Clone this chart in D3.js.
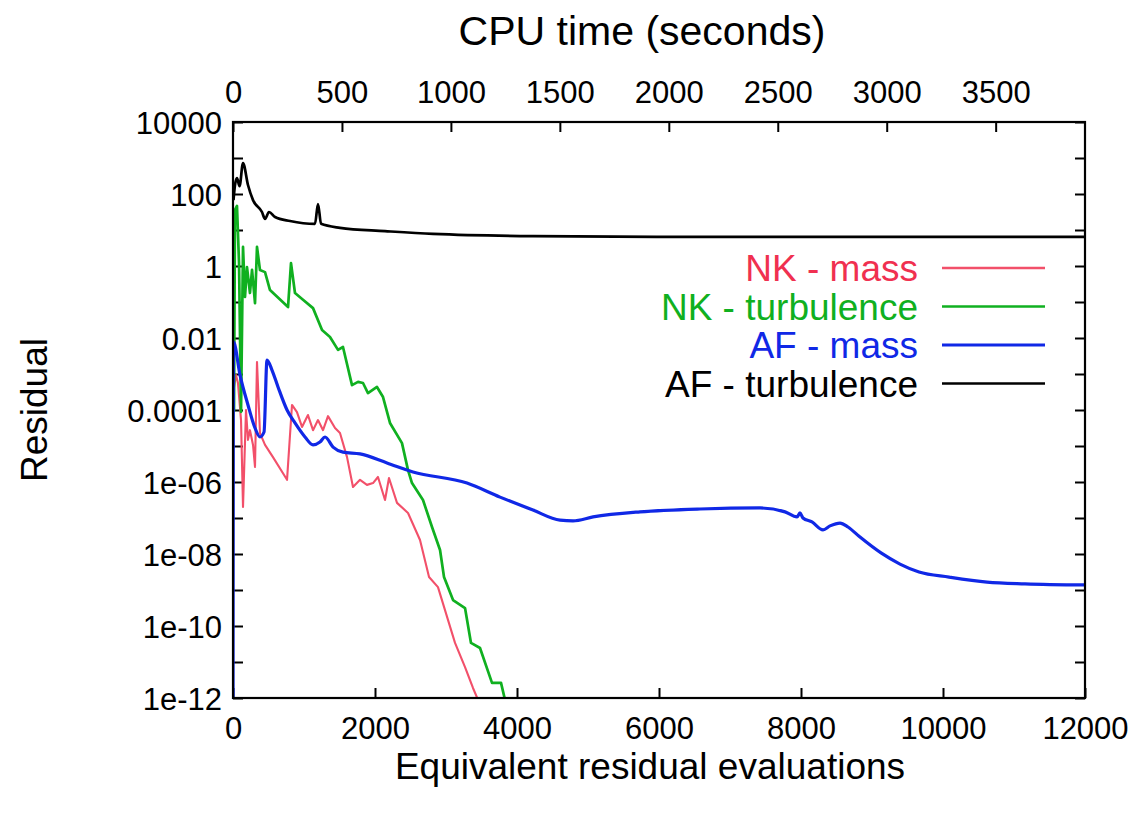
<!DOCTYPE html>
<html>
<head>
<meta charset="utf-8">
<script src="https://cdn.jsdelivr.net/npm/d3@7"></script>
<style>
  html, body { margin: 0; padding: 0; background: #ffffff; }
  svg { display: block; font-family: "Liberation Sans", Arial, Helvetica, sans-serif; }
</style>
</head>
<body>
<svg id="chart" width="1146" height="816"></svg>
<script>
// ---------------- DATA ----------------
const bottomTicks = [0, 2000, 4000, 6000, 8000, 10000, 12000];
const topTicks = [0, 500, 1000, 1500, 2000, 2500, 3000, 3500];
const yTickValues = [1e4, 1e2, 1, 1e-2, 1e-4, 1e-6, 1e-8, 1e-10, 1e-12];
const yTickLabels = ["10000", "100", "1", "0.01", "0.0001", "1e-06", "1e-08", "1e-10", "1e-12"];
const yMinorTicks = [1e3, 1e1, 1e-1, 1e-3, 1e-5, 1e-7, 1e-9, 1e-11];

const seriesNames = ["NK - mass", "NK - turbulence", "AF - mass", "AF - turbulence"];
const seriesColors = ["#f2506a", "#10b020", "#1028e6", "#000000"];
const legendTextColors = ["#f03050", "#10b020", "#1028e6", "#000000"];

// NK - mass (red)
const nkMassX = [7, 42, 70, 113, 141, 183, 211, 239, 282, 310, 338, 380, 451, 563, 761, 831, 901, 972, 1056, 1127, 1197, 1268, 1338, 1437, 1507, 1606, 1690, 1789, 1887, 1972, 2042, 2141, 2197, 2310, 2465, 2634, 2761, 2887, 3127, 3268, 3380, 3451];
const nkMassY = [3.63e-4, 9.33e-4, 5.62e-4, 5.25e-5, 2.04e-7, 1e-4, 1.48e-5, 2.75e-5, 1.07e-5, 2.63e-6, 2.14e-3, 2.29e-5, 1.07e-5, 4.9e-6, 1.15e-6, 1.38e-4, 8.71e-5, 3.39e-5, 7.24e-5, 2.75e-5, 5.25e-5, 2.75e-5, 6.76e-5, 3.16e-5, 2.29e-5, 4.9e-6, 7.24e-7, 1.15e-6, 8.32e-7, 9.33e-7, 1.38e-6, 3.16e-7, 1.29e-6, 2.63e-7, 1.38e-7, 2.45e-8, 2.29e-9, 1.2e-9, 3.39e-11, 7.24e-12, 1.9e-12, 8.9e-13];

// NK - turbulence (green)
const nkTurbX = [14, 28, 56, 85, 113, 141, 169, 197, 239, 268, 310, 338, 380, 451, 521, 775, 817, 873, 986, 1127, 1254, 1366, 1479, 1549, 1676, 1761, 1831, 1901, 2028, 2113, 2211, 2380, 2465, 2521, 2676, 2803, 2916, 2972, 3099, 3268, 3352, 3479, 3648, 3775, 3831];
const nkTurbY = [8.9e-5, 36.3, 46.8, 1.2, 8.9e-5, 3.39, 0.138, 0.933, 0.178, 0.776, 0.0933, 3.39, 0.776, 0.676, 0.214, 0.0724, 1.2, 0.178, 0.115, 0.0676, 0.0166, 0.0107, 0.00468, 0.00562, 4.9e-4, 6.03e-4, 5.62e-4, 2.95e-4, 4.37e-4, 2.29e-4, 4.37e-5, 1.2e-5, 2.14e-6, 9.33e-7, 3.16e-7, 5.62e-8, 1.29e-8, 2.29e-9, 5.25e-10, 3.16e-10, 3.39e-11, 2.45e-11, 2.63e-12, 2.63e-12, 8.9e-13];

// AF - mass (blue)
const afMassX = [0, 7, 99, 211, 310, 380, 437, 479, 549, 634, 761, 873, 1014, 1127, 1225, 1296, 1409, 1549, 1789, 2169, 2535, 3296, 3761, 4225, 4606, 4789, 5071, 5733, 6578, 7423, 7775, 7944, 7986, 8028, 8155, 8310, 8409, 8550, 8662, 8831, 9127, 9394, 9662, 10085, 10620, 11155, 12000];
const afMassY = [3.16e-13, 7.76e-3, 9.33e-4, 1.38e-4, 3.16e-5, 1.78e-5, 2.45e-5, 2.45e-3, 1.29e-3, 4.37e-4, 1e-4, 4.37e-5, 1.78e-5, 1.07e-5, 1.29e-5, 1.78e-5, 9.33e-6, 6.76e-6, 6.03e-6, 3.39e-6, 1.9e-6, 9.33e-7, 3.8e-7, 1.66e-7, 8.71e-8, 8.32e-8, 1.07e-7, 1.48e-7, 1.78e-7, 1.9e-7, 1.48e-7, 1.07e-7, 1.38e-7, 1e-7, 7.76e-8, 4.68e-8, 6.03e-8, 7.24e-8, 5.62e-8, 2.95e-8, 1.07e-8, 5.25e-9, 3.16e-9, 2.29e-9, 1.66e-9, 1.48e-9, 1.38e-9];

// AF - turbulence (black)
const afTurbX = [7, 28, 56, 92, 141, 211, 282, 408, 451, 507, 592, 803, 1155, 1197, 1240, 1507, 2141, 2817, 4225, 6578, 12000];
const afTurbY = [67.6, 178, 275, 166, 724, 178, 67.6, 31.6, 20.4, 31.6, 22.9, 17.8, 14.8, 52.5, 14.8, 11.5, 9.33, 7.76, 6.76, 6.46, 6.46];

// ---------------- CHART ----------------
const plot = { left: 233, right: 1085, top: 122, bottom: 698 };

const svg = d3.select("#chart");

const x = d3.scaleLinear().domain([0, 12000]).range([plot.left, plot.right]);
const xTop = d3.scaleLinear().domain([0, 3910]).range([plot.left, plot.right]);
const y = d3.scaleLog().domain([1e-12, 1e4]).range([plot.bottom, plot.top]);

svg.append("defs").append("clipPath").attr("id", "clip")
  .append("rect")
  .attr("x", plot.left).attr("y", plot.top)
  .attr("width", plot.right - plot.left).attr("height", plot.bottom - plot.top);

const tickFont = 31;
const titleFont = 37;

// bottom axis
svg.append("g")
  .attr("transform", `translate(0,${plot.bottom})`)
  .call(d3.axisBottom(x).tickValues(bottomTicks).tickFormat(d3.format("d"))
    .tickSizeInner(-10).tickSizeOuter(0).tickPadding(19));
// top axis
svg.append("g")
  .attr("transform", `translate(0,${plot.top})`)
  .call(d3.axisTop(xTop).tickValues(topTicks).tickFormat(d3.format("d"))
    .tickSizeInner(-10).tickSizeOuter(0).tickPadding(19));
// left axis (labels)
const gLeft = svg.append("g")
  .attr("transform", `translate(${plot.left},0)`)
  .call(d3.axisLeft(y).tickValues(yTickValues)
    .tickFormat((d, i) => yTickLabels[i])
    .tickSizeInner(-10).tickSizeOuter(0).tickPadding(11));
// left minor ticks
svg.append("g")
  .attr("transform", `translate(${plot.left},0)`)
  .call(d3.axisLeft(y).tickValues(yMinorTicks).tickFormat("")
    .tickSizeInner(-10).tickSizeOuter(0));
// right axis ticks
svg.append("g")
  .attr("transform", `translate(${plot.right},0)`)
  .call(d3.axisRight(y).tickValues(yTickValues.concat(yMinorTicks)).tickFormat("")
    .tickSizeInner(-10).tickSizeOuter(0));

svg.selectAll(".domain").remove();
svg.selectAll(".tick line").attr("stroke", "#000").attr("stroke-width", 2);
svg.selectAll(".tick text").attr("font-size", tickFont).attr("fill", "#000")
  .attr("font-family", '"Liberation Sans", Arial, Helvetica, sans-serif');
gLeft.selectAll(".tick text").attr("dy", "0.36em");

// series
const data = [
  { x: nkMassX, y: nkMassY, w: 2.1 },
  { x: nkTurbX, y: nkTurbY, w: 2.7 },
  { x: afMassX, y: afMassY, w: 3.2 },
  { x: afTurbX, y: afTurbY, w: 2.7 }
];

const gLines = svg.append("g").attr("clip-path", "url(#clip)");
data.forEach((s, i) => {
  const pts = s.x.map((v, k) => [v, s.y[k]]);
  const line = d3.line()
    .x(d => x(d[0]))
    .y(d => y(d[1]))
    .curve(i >= 2 ? d3.curveMonotoneX : d3.curveLinear);
  gLines.append("path")
    .attr("d", line(pts))
    .attr("fill", "none")
    .attr("stroke", seriesColors[i])
    .attr("stroke-width", s.w)
    .attr("stroke-linejoin", "round");
});

// frame
svg.append("rect")
  .attr("x", plot.left).attr("y", plot.top)
  .attr("width", plot.right - plot.left).attr("height", plot.bottom - plot.top)
  .attr("fill", "none").attr("stroke", "#000").attr("stroke-width", 2.2);

// legend
const legendTextX = 918, legendLineX1 = 942, legendLineX2 = 1045;
const legendY0 = 268, legendDy = 38.5;
const legend = svg.append("g");
seriesNames.forEach((name, i) => {
  const cy = legendY0 + i * legendDy;
  legend.append("text")
    .attr("x", legendTextX).attr("y", cy)
    .attr("dy", "0.36em")
    .attr("text-anchor", "end")
    .attr("font-size", 37)
    .attr("fill", legendTextColors[i])
    .text(name);
  legend.append("line")
    .attr("x1", legendLineX1).attr("x2", legendLineX2)
    .attr("y1", cy).attr("y2", cy)
    .attr("stroke", seriesColors[i]).attr("stroke-width", i === 2 ? 3 : 2.4);
});

// axis titles
svg.append("text")
  .attr("x", 642).attr("y", 45)
  .attr("text-anchor", "middle").attr("font-size", 41).attr("fill", "#000")
  .text("CPU time (seconds)");
svg.append("text")
  .attr("x", 650).attr("y", 779)
  .attr("text-anchor", "middle").attr("font-size", titleFont).attr("fill", "#000")
  .text("Equivalent residual evaluations");
svg.append("text")
  .attr("transform", "translate(47,410) rotate(-90)")
  .attr("text-anchor", "middle").attr("font-size", titleFont).attr("fill", "#000")
  .text("Residual");
</script>
</body>
</html>
